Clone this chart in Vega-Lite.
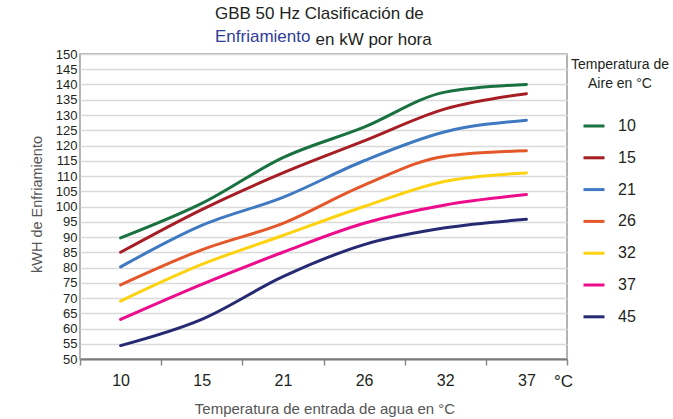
{
  "$schema": "https://vega.github.io/schema/vega-lite/v6.json",
  "width": 487,
  "height": 305,
  "autosize": "none",
  "padding": {"left": 80, "top": 54, "right": 106, "bottom": 60},
  "background": "white",
  "config": {
    "font": "Liberation Sans",
    "view": {"stroke": "#9a9a9a", "strokeWidth": 1.5}
  },
  "title": {
    "text": "GBB 50 Hz Clasificación de",
    "subtitle": "Enfriamiento",
    "anchor": "start",
    "align": "left",
    "frame": "group",
    "dx": 135,
    "dy": 22,
    "offset": 6,
    "fontSize": 17,
    "fontWeight": "normal",
    "color": "#231f20",
    "subtitleFontSize": 17,
    "subtitleColor": "#2e3d97",
    "subtitlePadding": 6,
    "font": "Liberation Sans",
    "subtitleFont": "Liberation Sans"
  },
  "data": {
    "values": [
      {"agua": 10, "aire": 10, "kw": 89.7},
      {"agua": 15, "aire": 10, "kw": 101},
      {"agua": 21, "aire": 10, "kw": 116},
      {"agua": 26, "aire": 10, "kw": 126},
      {"agua": 32, "aire": 10, "kw": 137.5},
      {"agua": 37, "aire": 10, "kw": 140},
      {"agua": 10, "aire": 15, "kw": 85},
      {"agua": 15, "aire": 15, "kw": 99},
      {"agua": 21, "aire": 15, "kw": 111},
      {"agua": 26, "aire": 15, "kw": 121.5},
      {"agua": 32, "aire": 15, "kw": 132},
      {"agua": 37, "aire": 15, "kw": 137},
      {"agua": 10, "aire": 21, "kw": 80.2},
      {"agua": 15, "aire": 21, "kw": 93.8},
      {"agua": 21, "aire": 21, "kw": 103},
      {"agua": 26, "aire": 21, "kw": 115},
      {"agua": 32, "aire": 21, "kw": 124.5},
      {"agua": 37, "aire": 21, "kw": 128.3},
      {"agua": 10, "aire": 26, "kw": 74.3},
      {"agua": 15, "aire": 26, "kw": 85.8},
      {"agua": 21, "aire": 26, "kw": 94.5},
      {"agua": 26, "aire": 26, "kw": 107},
      {"agua": 32, "aire": 26, "kw": 116.5},
      {"agua": 37, "aire": 26, "kw": 118.3},
      {"agua": 10, "aire": 32, "kw": 69},
      {"agua": 15, "aire": 32, "kw": 81},
      {"agua": 21, "aire": 32, "kw": 90.5},
      {"agua": 26, "aire": 32, "kw": 100},
      {"agua": 32, "aire": 32, "kw": 108.3},
      {"agua": 37, "aire": 32, "kw": 111},
      {"agua": 10, "aire": 37, "kw": 63},
      {"agua": 15, "aire": 37, "kw": 74.5},
      {"agua": 21, "aire": 37, "kw": 85},
      {"agua": 26, "aire": 37, "kw": 94.5},
      {"agua": 32, "aire": 37, "kw": 100.5},
      {"agua": 37, "aire": 37, "kw": 103.9},
      {"agua": 10, "aire": 45, "kw": 54.4},
      {"agua": 15, "aire": 45, "kw": 63},
      {"agua": 21, "aire": 45, "kw": 77},
      {"agua": 26, "aire": 45, "kw": 87.5},
      {"agua": 32, "aire": 45, "kw": 93},
      {"agua": 37, "aire": 45, "kw": 95.8}
    ]
  },
  "layer": [
    {
      "mark": {"type": "line", "interpolate": "monotone", "strokeWidth": 3, "strokeCap": "round"},
      "encoding": {
        "x": {
          "field": "agua",
          "type": "ordinal",
          "bandPosition": 0.5,
          "scale": {"type": "band", "paddingInner": 0, "paddingOuter": 0},
          "axis": {
            "title": "Temperatura de entrada de agua en °C",
            "titleX": 244.5,
            "titleY": 49,
            "titleBaseline": "middle",
            "titleFontSize": 15,
            "titleFontWeight": "normal",
            "titleColor": "#555555",
            "labelAngle": 0,
            "labelFontSize": 16,
            "labelColor": "#231f20",
            "labelPadding": 7,
            "tickBand": "extent",
            "tickSize": 6,
            "tickColor": "#8a8a8a",
            "tickWidth": 1.5,
            "domainColor": "#7a7a7a",
            "domainWidth": 2,
            "grid": false
          }
        },
        "y": {
          "field": "kw",
          "type": "quantitative",
          "scale": {"domain": [50, 150], "nice": false, "zero": false},
          "axis": {
            "title": "kWH de Enfriamiento",
            "titleX": -43,
            "titleY": 150,
            "titleAngle": -90,
            "titleAlign": "center",
            "titleBaseline": "middle",
            "titleFontSize": 14.5,
            "titleFontWeight": "normal",
            "titleColor": "#555555",
            "values": [50, 55, 60, 65, 70, 75, 80, 85, 90, 95, 100, 105, 110, 115, 120, 125, 130, 135, 140, 145, 150],
            "labelFontSize": 13,
            "labelColor": "#231f20",
            "labelPadding": 3,
            "ticks": false,
            "domain": false,
            "grid": true,
            "gridColor": "#dadada",
            "gridWidth": 1.5
          }
        },
        "color": {
          "field": "aire",
          "type": "nominal",
          "scale": {
            "domain": [10, 15, 21, 26, 32, 37, 45],
            "range": ["#18713f", "#a61d24", "#3f79c1", "#e4572a", "#fdd20e", "#ec0c8c", "#262a73"]
          },
          "legend": {
            "title": ["Temperatura de", "Aire en °C"],
            "orient": "none",
            "legendX": 491,
            "legendY": 4,
            "padding": 0,
            "titleFontSize": 14,
            "titleFontWeight": "normal",
            "titleColor": "#231f20",
            "titleLineHeight": 19,
            "titleAlign": "center",
            "titleAnchor": "middle",
            "titlePadding": 23,
            "symbolType": "stroke",
            "symbolSize": 441,
            "symbolStrokeWidth": 3,
            "symbolOffset": -22,
            "labelFontSize": 16,
            "labelColor": "#231f20",
            "labelOffset": 12,
            "rowPadding": 11.8
          }
        }
      }
    },
    {
      "mark": {"type": "line", "opacity": 0},
      "encoding": {
        "x": {
          "field": "agua",
          "type": "ordinal",
          "scale": {"type": "band", "paddingInner": 0, "paddingOuter": 0},
          "axis": {
            "orient": "top",
            "title": "°C",
            "titleX": 483,
            "titleY": 327,
            "titleAlign": "center",
            "titleBaseline": "middle",
            "titleFontSize": 17,
            "titleFontWeight": "normal",
            "titleColor": "#231f20",
            "labels": false,
            "ticks": false,
            "domain": false,
            "grid": false
          }
        },
        "y": {
          "field": "kw",
          "type": "quantitative",
          "scale": {"domain": [50, 150], "nice": false, "zero": false},
          "axis": {
            "orient": "right",
            "title": "en kW por hora",
            "titleX": -252,
            "titleY": -15,
            "titleAngle": 0,
            "titleAlign": "left",
            "titleBaseline": "middle",
            "titleFontSize": 17,
            "titleFontWeight": "normal",
            "titleColor": "#231f20",
            "labels": false,
            "ticks": false,
            "domain": false,
            "grid": false
          }
        }
      }
    }
  ],
  "resolve": {"scale": {"x": "independent", "y": "independent"}}
}
